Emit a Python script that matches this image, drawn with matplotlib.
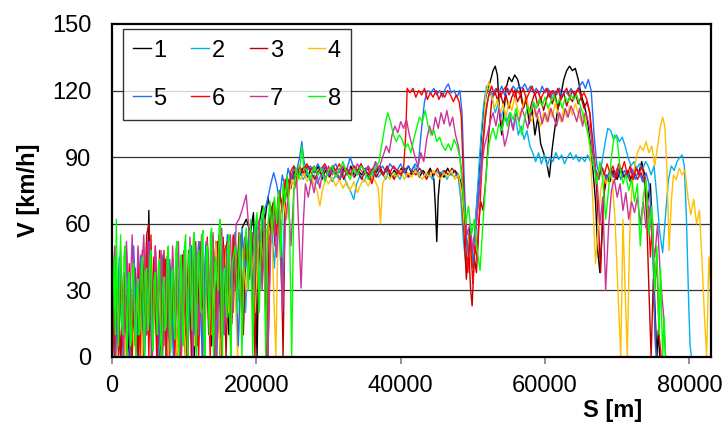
"""
Speed profiles V(S) for eight runs along the same route.
"""
import numpy as np
import matplotlib
matplotlib.use("Agg")
import matplotlib.pyplot as plt

plt.rcParams["font.family"] = ["Liberation Sans", "DejaVu Sans"]

# (S [km], V [km/h]), one list per run
run1 = [(0.0, 0), (0.6, 30), (1.2, 0), (1.8, 35), (2.4, 0), (3.0, 38), (3.6, 0), (4.2, 45), (4.8, 10), (5.1, 66),
        (5.4, 0), (6.0, 40), (6.6, 0), (7.2, 42), (7.8, 0), (8.4, 40), (9.0, 0), (9.6, 44), (10.2, 0), (10.8, 46),
        (11.4, 0), (12.0, 48), (12.6, 22), (13.2, 50), (13.8, 5), (14.4, 52), (15.0, 0), (15.6, 50), (16.2, 10),
        (16.8, 54), (17.4, 25), (18.0, 58), (18.6, 62), (19.2, 56), (19.6, 65), (19.9, 30), (20.1, 0), (20.4, 60),
        (20.8, 68), (21.2, 62), (21.6, 72), (22.0, 65), (22.4, 70), (22.8, 60), (23.2, 74), (23.6, 68), (24.0, 78),
        (24.4, 72), (24.8, 82), (25.2, 80), (25.6, 84), (26.1, 82), (26.6, 86), (27.1, 81), (27.6, 85), (28.1, 83),
        (28.6, 86), (29.1, 80), (29.6, 84), (30.1, 82), (30.6, 86), (31.1, 83), (31.6, 80), (32.1, 85), (32.6, 82),
        (33.1, 86), (33.6, 81), (34.1, 84), (34.6, 82), (35.1, 85), (35.6, 80), (36.1, 84), (36.6, 83), (37.1, 86),
        (37.6, 82), (38.1, 85), (38.6, 81), (39.1, 84), (39.6, 82), (40.1, 85), (40.6, 83), (41.1, 86), (41.6, 82),
        (42.1, 85), (42.6, 81), (43.1, 84), (43.6, 82), (44.1, 85), (44.6, 80), (44.8, 68), (45.0, 52), (45.2, 72),
        (45.5, 83), (46.0, 81), (46.5, 85), (47.0, 82), (47.5, 84), (48.0, 82), (48.4, 78), (48.8, 60), (49.2, 48),
        (49.6, 58), (50.0, 45), (50.4, 62), (50.8, 80), (51.2, 100), (51.6, 114), (52.0, 120), (52.4, 124),
        (52.8, 129), (53.1, 131), (53.4, 127), (53.7, 110), (54.0, 100), (54.3, 110), (54.6, 121), (55.0, 126),
        (55.4, 124), (55.8, 127), (56.2, 125), (56.6, 120), (57.0, 112), (57.4, 117), (57.8, 105), (58.2, 112),
        (58.6, 100), (59.0, 108), (59.4, 96), (59.8, 92), (60.2, 88), (60.6, 81), (61.0, 94), (61.4, 104),
        (61.8, 112), (62.2, 118), (62.6, 125), (63.0, 129), (63.4, 131), (63.8, 129), (64.2, 130), (64.6, 125),
        (65.0, 118), (65.4, 114), (65.8, 108), (66.2, 98), (66.6, 86), (67.0, 70), (67.3, 48), (67.6, 38),
        (67.9, 55), (68.2, 74), (68.6, 82), (69.0, 79), (69.5, 84), (70.0, 80), (70.5, 85), (71.0, 81), (71.5, 84),
        (72.0, 79), (72.5, 86), (73.0, 83), (73.4, 88), (73.8, 82), (74.2, 70), (74.6, 78), (74.9, 55), (75.2, 25),
        (75.5, 0), (75.7, 12), (75.9, 0)]

run2 = [(0.0, 25), (0.5, 0), (1.0, 35), (1.5, 0), (2.0, 40), (2.5, 5), (3.0, 42), (3.5, 0), (4.0, 45), (4.5, 0),
        (5.0, 48), (5.5, 5), (6.0, 44), (6.5, 0), (7.0, 46), (7.5, 0), (8.0, 42), (8.5, 5), (9.0, 45), (9.5, 0),
        (10.0, 48), (10.5, 0), (11.0, 50), (11.5, 10), (12.0, 50), (12.5, 0), (13.0, 52), (13.5, 15), (14.0, 54),
        (14.5, 0), (15.0, 52), (15.5, 20), (16.0, 55), (16.5, 10), (17.0, 56), (17.5, 40), (18.0, 58), (18.5, 20),
        (19.0, 56), (19.5, 45), (20.0, 60), (20.5, 30), (21.0, 62), (21.5, 55), (22.0, 66), (22.5, 40), (23.0, 70),
        (23.5, 32), (24.0, 72), (24.5, 78), (25.0, 82), (25.5, 78), (26.0, 84), (26.5, 80), (27.0, 83), (27.5, 79),
        (28.0, 82), (28.5, 78), (29.0, 83), (29.5, 80), (30.0, 84), (30.5, 79), (31.0, 82), (31.5, 80), (32.0, 83),
        (32.5, 78), (33.0, 75), (33.5, 71), (33.9, 78), (34.4, 82), (34.9, 79), (35.4, 83), (35.9, 80), (36.4, 84),
        (36.9, 81), (37.4, 83), (37.9, 80), (38.4, 84), (38.9, 81), (39.4, 83), (39.9, 80), (40.4, 84), (40.9, 81),
        (41.4, 83), (41.9, 86), (42.4, 82), (42.9, 84), (43.4, 81), (43.9, 83), (44.4, 80), (44.9, 84), (45.4, 82),
        (45.9, 84), (46.4, 80), (46.9, 83), (47.4, 81), (47.9, 83), (48.3, 72), (48.7, 52), (49.1, 40), (49.5, 50),
        (49.9, 42), (50.3, 58), (50.7, 78), (51.1, 98), (51.5, 114), (51.9, 122), (52.3, 120), (52.7, 116),
        (53.1, 110), (53.5, 114), (53.9, 108), (54.3, 112), (54.7, 106), (55.1, 110), (55.5, 103), (55.9, 108),
        (56.3, 100), (56.7, 104), (57.1, 98), (57.5, 102), (57.9, 95), (58.3, 92), (58.7, 88), (59.1, 92),
        (59.5, 87), (59.9, 91), (60.3, 86), (60.7, 90), (61.1, 88), (61.5, 92), (61.9, 89), (62.3, 91), (62.7, 87),
        (63.1, 90), (63.5, 92), (63.9, 89), (64.3, 91), (64.7, 88), (65.1, 90), (65.5, 88), (65.9, 91), (66.3, 88),
        (66.7, 86), (67.1, 84), (67.5, 80), (67.9, 88), (68.3, 96), (68.7, 103), (69.1, 102), (69.5, 98),
        (69.9, 100), (70.3, 97), (70.7, 99), (71.1, 95), (71.5, 90), (71.9, 86), (72.3, 88), (72.7, 85), (73.1, 87),
        (73.5, 84), (73.9, 88), (74.3, 86), (74.7, 82), (75.1, 86), (75.5, 72), (75.9, 56), (76.3, 47), (76.7, 64),
        (77.1, 80), (77.5, 86), (77.9, 84), (78.3, 88), (78.7, 90), (79.0, 91), (79.3, 86), (79.6, 62), (79.9, 25),
        (80.1, 5), (80.3, 0)]

run3 = [(0.0, 35), (0.4, 0), (0.8, 30), (1.2, 0), (1.6, 38), (2.0, 5), (2.4, 35), (2.8, 0), (3.2, 40), (3.6, 0),
        (4.0, 45), (4.4, 0), (4.8, 55), (5.1, 60), (5.4, 5), (5.8, 45), (6.2, 0), (6.6, 48), (7.0, 0), (7.4, 44),
        (7.8, 0), (8.2, 40), (8.6, 5), (9.0, 42), (9.4, 0), (9.8, 46), (10.2, 0), (10.6, 48), (11.0, 0), (11.4, 50),
        (11.8, 5), (12.2, 52), (12.6, 0), (13.0, 50), (13.4, 10), (13.8, 55), (14.2, 0), (14.6, 52), (15.0, 20),
        (15.4, 54), (15.8, 0), (16.2, 50), (16.6, 15), (17.0, 54), (17.4, 30), (17.8, 55), (18.2, 10), (18.6, 52),
        (19.0, 35), (19.4, 56), (19.8, 0), (20.2, 58), (20.6, 40), (21.0, 62), (21.4, 0), (21.8, 60), (22.2, 68),
        (22.6, 50), (23.0, 72), (23.4, 60), (23.7, 0), (24.0, 70), (24.4, 80), (24.8, 76), (25.2, 84), (25.6, 80),
        (26.1, 85), (26.6, 82), (27.1, 86), (27.6, 83), (28.1, 80), (28.6, 84), (29.1, 82), (29.6, 86), (30.1, 81),
        (30.6, 84), (31.1, 82), (31.6, 85), (32.1, 80), (32.6, 84), (33.1, 82), (33.6, 86), (34.1, 83), (34.6, 80),
        (35.1, 84), (35.6, 82), (36.1, 85), (36.6, 81), (37.1, 84), (37.6, 82), (38.1, 86), (38.6, 83), (39.1, 80),
        (39.6, 84), (40.1, 82), (40.6, 85), (41.1, 81), (41.6, 84), (42.1, 82), (42.6, 85), (43.1, 83), (43.6, 80),
        (44.1, 84), (44.6, 82), (45.1, 85), (45.6, 81), (46.1, 84), (46.6, 82), (47.1, 85), (47.6, 83), (48.1, 80),
        (48.4, 76), (48.8, 55), (49.1, 35), (49.4, 50), (49.7, 30), (49.9, 23), (50.2, 45), (50.5, 38), (50.8, 60),
        (51.1, 70), (51.4, 66), (51.8, 80), (52.2, 100), (52.6, 115), (53.0, 120), (53.4, 116), (53.8, 119),
        (54.2, 114), (54.6, 118), (55.0, 112), (55.4, 117), (55.8, 120), (56.2, 115), (56.6, 118), (57.0, 112),
        (57.4, 116), (57.8, 110), (58.2, 115), (58.6, 119), (59.0, 113), (59.4, 117), (59.8, 111), (60.2, 116),
        (60.6, 120), (61.0, 114), (61.4, 118), (61.8, 112), (62.2, 116), (62.6, 119), (63.0, 113), (63.4, 117),
        (63.8, 115), (64.2, 119), (64.6, 114), (65.0, 117), (65.4, 112), (65.8, 115), (66.2, 110), (66.6, 98),
        (67.0, 84), (67.4, 60), (67.7, 38), (68.0, 68), (68.4, 82), (68.8, 79), (69.3, 84), (69.8, 80), (70.3, 85),
        (70.8, 81), (71.3, 83), (71.8, 79), (72.3, 84), (72.8, 80), (73.3, 83), (73.8, 78), (74.1, 62), (74.4, 30),
        (74.7, 0), (75.0, 35), (75.3, 5), (75.5, 0)]

run4 = [(0.0, 20), (0.6, 0), (1.2, 30), (1.8, 0), (2.4, 35), (3.0, 5), (3.6, 40), (4.2, 0), (4.8, 45), (5.4, 0),
        (6.0, 42), (6.6, 5), (7.2, 40), (7.8, 0), (8.4, 44), (9.0, 0), (9.6, 42), (10.2, 0), (10.8, 46), (11.4, 5),
        (12.0, 48), (12.6, 0), (13.2, 50), (13.8, 10), (14.4, 52), (15.0, 0), (15.6, 50), (16.2, 20), (16.8, 54),
        (17.4, 0), (18.0, 50), (18.6, 30), (19.2, 55), (19.8, 20), (20.4, 58), (21.0, 40), (21.6, 60), (22.2, 50),
        (22.5, 20), (22.7, 0), (23.0, 55), (23.4, 65), (23.8, 70), (24.2, 62), (24.6, 75), (25.0, 80), (25.4, 76),
        (25.8, 82), (26.2, 80), (26.6, 83), (27.0, 79), (27.5, 82), (28.0, 78), (28.4, 75), (28.8, 68), (29.2, 76),
        (29.6, 80), (30.0, 78), (30.5, 81), (31.0, 77), (31.5, 80), (32.0, 76), (32.5, 79), (33.0, 75), (33.5, 79),
        (34.0, 74), (34.5, 78), (35.0, 80), (35.5, 77), (36.0, 81), (36.5, 79), (36.9, 76), (37.2, 60), (37.5, 78),
        (38.0, 82), (38.5, 80), (39.0, 83), (39.5, 81), (40.0, 84), (40.5, 80), (41.0, 83), (41.5, 81), (42.0, 84),
        (42.5, 82), (43.0, 80), (43.5, 83), (44.0, 81), (44.5, 84), (45.0, 82), (45.5, 80), (46.0, 83), (46.5, 81),
        (47.0, 84), (47.5, 80), (48.0, 82), (48.4, 75), (48.8, 60), (49.2, 45), (49.5, 55), (49.8, 40), (50.2, 50),
        (50.6, 65), (51.0, 80), (51.4, 100), (51.8, 118), (52.2, 124), (52.6, 118), (53.0, 112), (53.4, 116),
        (53.8, 110), (54.2, 114), (54.6, 108), (55.0, 115), (55.4, 111), (55.8, 117), (56.2, 112), (56.6, 108),
        (57.0, 114), (57.4, 118), (57.8, 110), (58.2, 106), (58.6, 112), (59.0, 108), (59.4, 104), (59.8, 110),
        (60.2, 106), (60.6, 112), (61.0, 108), (61.4, 114), (61.8, 110), (62.2, 106), (62.6, 112), (63.0, 108),
        (63.4, 113), (63.8, 109), (64.2, 114), (64.6, 110), (65.0, 106), (65.4, 110), (65.8, 104), (66.2, 95),
        (66.6, 72), (67.0, 42), (67.3, 55), (67.7, 75), (68.1, 82), (68.5, 78), (68.9, 84), (69.3, 80), (69.7, 62),
        (70.1, 30), (70.5, 0), (70.8, 62), (71.1, 30), (71.4, 0), (71.7, 50), (72.0, 75), (72.4, 85), (72.8, 92),
        (73.2, 95), (73.6, 93), (74.0, 97), (74.4, 92), (74.8, 95), (75.2, 86), (75.6, 95), (76.0, 104), (76.3, 108),
        (76.6, 104), (76.9, 84), (77.2, 48), (77.5, 70), (77.8, 82), (78.2, 80), (78.6, 85), (79.0, 82), (79.4, 84),
        (79.8, 72), (80.2, 64), (80.6, 71), (81.0, 60), (81.4, 66), (81.8, 40), (82.1, 18), (82.4, 0), (82.7, 45),
        (83.0, 30)]

run5 = [(0.0, 42), (0.5, 0), (1.0, 45), (1.5, 5), (2.0, 48), (2.5, 0), (3.0, 50), (3.5, 10), (4.0, 46), (4.5, 0),
        (5.0, 52), (5.5, 0), (6.0, 48), (6.5, 5), (7.0, 45), (7.5, 0), (8.0, 44), (8.5, 0), (9.0, 46), (9.5, 5),
        (10.0, 48), (10.5, 0), (11.0, 50), (11.5, 10), (12.0, 52), (12.5, 0), (13.0, 50), (13.5, 20), (14.0, 54),
        (14.5, 0), (15.0, 52), (15.5, 10), (16.0, 55), (16.5, 30), (17.0, 54), (17.5, 5), (18.0, 56), (18.5, 40),
        (19.0, 57), (19.5, 30), (20.0, 60), (20.5, 50), (21.0, 65), (21.5, 70), (22.0, 78), (22.4, 83), (22.8, 78),
        (23.2, 70), (23.6, 82), (24.0, 76), (24.4, 85), (24.8, 80), (25.2, 86), (25.6, 84), (26.0, 90), (26.3, 97),
        (26.6, 88), (27.0, 84), (27.5, 86), (28.0, 83), (28.5, 87), (29.0, 84), (29.5, 86), (30.0, 82), (30.5, 85),
        (31.0, 87), (31.5, 83), (32.0, 86), (32.5, 84), (33.0, 90), (33.5, 85), (34.0, 83), (34.5, 87), (35.0, 84),
        (35.5, 86), (36.0, 83), (36.5, 87), (37.0, 84), (37.5, 86), (38.0, 83), (38.5, 87), (39.0, 85), (39.5, 84),
        (40.0, 87), (40.5, 83), (41.0, 86), (41.5, 84), (42.0, 87), (42.4, 85), (42.8, 100), (43.3, 115),
        (43.7, 120), (44.2, 119), (44.6, 121), (45.0, 118), (45.4, 120), (45.8, 117), (46.2, 121), (46.6, 123),
        (47.0, 119), (47.4, 120), (47.8, 117), (48.2, 120), (48.5, 110), (48.8, 80), (49.1, 55), (49.4, 45),
        (49.7, 60), (50.0, 40), (50.4, 55), (50.8, 75), (51.2, 90), (51.6, 105), (52.0, 115), (52.4, 120),
        (52.8, 118), (53.2, 121), (53.6, 119), (54.0, 122), (54.4, 118), (54.8, 121), (55.2, 119), (55.6, 122),
        (56.0, 120), (56.4, 122), (56.8, 121), (57.2, 123), (57.6, 120), (58.0, 122), (58.4, 119), (58.8, 121),
        (59.2, 118), (59.6, 122), (60.0, 119), (60.4, 121), (60.8, 117), (61.2, 120), (61.6, 118), (62.0, 121),
        (62.4, 117), (62.8, 120), (63.2, 118), (63.6, 121), (64.0, 118), (64.4, 120), (64.8, 122), (65.2, 124),
        (65.6, 121), (66.0, 125), (66.4, 120), (66.8, 100), (67.2, 86), (67.6, 82), (68.0, 85), (68.5, 80),
        (69.0, 84), (69.5, 81), (70.0, 85), (70.5, 80), (71.0, 84), (71.5, 81), (72.0, 85), (72.5, 80), (73.0, 84),
        (73.5, 79), (74.0, 83), (74.4, 78), (74.8, 60), (75.1, 30), (75.4, 0)]

run6 = [(0.0, 40), (0.3, 0), (0.6, 38), (0.9, 0), (1.2, 40), (1.5, 5), (1.8, 38), (2.1, 0), (2.4, 42), (2.7, 0),
        (3.0, 40), (3.3, 2), (3.6, 44), (3.9, 0), (4.2, 48), (4.5, 10), (4.8, 52), (5.1, 0), (5.4, 55), (5.7, 5),
        (6.0, 50), (6.3, 0), (6.6, 45), (6.9, 10), (7.2, 48), (7.5, 0), (7.8, 42), (8.1, 2), (8.4, 45), (8.7, 0),
        (9.0, 40), (9.3, 5), (9.6, 0), (10.0, 46), (10.4, 0), (10.8, 50), (11.2, 8), (11.6, 52), (12.0, 0),
        (12.4, 48), (12.8, 10), (13.2, 54), (13.6, 0), (14.0, 50), (14.4, 15), (14.8, 55), (15.2, 0), (15.6, 48),
        (16.0, 52), (16.4, 10), (16.8, 55), (17.2, 30), (17.6, 56), (18.0, 20), (18.4, 54), (18.8, 40), (19.2, 56),
        (19.6, 10), (20.0, 55), (20.4, 60), (20.8, 35), (21.2, 62), (21.6, 0), (22.0, 60), (22.4, 70), (22.8, 55),
        (23.2, 75), (23.6, 65), (24.0, 80), (24.4, 72), (24.8, 84), (25.2, 86), (25.6, 82), (26.0, 86), (26.5, 83),
        (27.0, 87), (27.5, 84), (28.0, 86), (28.5, 82), (29.0, 85), (29.5, 87), (30.0, 83), (30.5, 86), (31.0, 84),
        (31.5, 87), (32.0, 83), (32.5, 85), (33.0, 82), (33.5, 86), (34.0, 84), (34.5, 87), (35.0, 83), (35.5, 85),
        (36.0, 78), (36.5, 84), (37.0, 86), (37.5, 82), (38.0, 85), (38.5, 83), (39.0, 86), (39.5, 84), (40.0, 82),
        (40.4, 85), (40.7, 100), (40.9, 121), (41.3, 119), (41.7, 121), (42.1, 117), (42.5, 120), (42.9, 118),
        (43.3, 121), (43.7, 116), (44.1, 119), (44.5, 117), (44.9, 120), (45.3, 116), (45.7, 119), (46.1, 117),
        (46.5, 120), (46.9, 118), (47.3, 115), (47.7, 118), (48.1, 115), (48.4, 108), (48.7, 80), (49.0, 50),
        (49.3, 38), (49.6, 55), (50.0, 33), (50.3, 50), (50.6, 44), (51.0, 70), (51.4, 95), (51.8, 110),
        (52.2, 118), (52.6, 122), (53.0, 118), (53.4, 121), (53.8, 117), (54.2, 120), (54.6, 122), (55.0, 118),
        (55.4, 121), (55.8, 117), (56.2, 120), (56.6, 118), (57.0, 121), (57.4, 116), (57.8, 119), (58.2, 122),
        (58.6, 118), (59.0, 120), (59.4, 116), (59.8, 119), (60.2, 121), (60.6, 117), (61.0, 120), (61.4, 118),
        (61.8, 121), (62.2, 116), (62.6, 119), (63.0, 121), (63.4, 117), (63.8, 120), (64.2, 118), (64.6, 121),
        (65.0, 117), (65.4, 119), (65.8, 116), (66.2, 110), (66.6, 92), (67.0, 84), (67.4, 80), (67.8, 86),
        (68.2, 82), (68.6, 87), (69.0, 83), (69.4, 86), (69.8, 81), (70.2, 87), (70.6, 84), (71.0, 88), (71.4, 82),
        (71.8, 86), (72.2, 80), (72.6, 85), (73.0, 82), (73.4, 86), (73.8, 80), (74.2, 72), (74.6, 45), (74.9, 62),
        (75.2, 30), (75.5, 45), (75.8, 10), (76.1, 0)]

run7 = [(0.0, 30), (0.4, 50), (0.8, 10), (1.2, 48), (1.6, 0), (2.0, 52), (2.4, 20), (2.8, 55), (3.2, 5), (3.6, 50),
        (4.0, 30), (4.4, 55), (4.8, 10), (5.2, 52), (5.6, 0), (6.0, 50), (6.4, 25), (6.8, 48), (7.2, 5), (7.6, 45),
        (8.0, 0), (8.4, 50), (8.8, 15), (9.2, 52), (9.6, 0), (10.0, 48), (10.4, 20), (10.8, 54), (11.2, 0),
        (11.6, 50), (12.0, 10), (12.4, 55), (12.8, 0), (13.2, 52), (13.6, 30), (14.0, 56), (14.4, 0), (14.8, 50),
        (15.2, 58), (15.6, 10), (16.0, 50), (16.4, 55), (16.8, 20), (17.2, 60), (17.6, 62), (18.0, 66), (18.6, 73),
        (18.9, 60), (19.2, 40), (19.6, 20), (20.0, 55), (20.4, 62), (20.8, 30), (21.2, 58), (21.6, 0), (22.0, 55),
        (22.4, 65), (22.8, 45), (23.2, 68), (23.6, 20), (24.0, 60), (24.4, 72), (24.8, 50), (25.2, 75), (25.6, 80),
        (25.9, 55), (26.2, 31), (26.5, 60), (26.8, 78), (27.2, 72), (27.6, 80), (28.0, 74), (28.4, 82), (28.8, 76),
        (29.2, 84), (29.6, 80), (30.0, 86), (30.5, 82), (31.0, 84), (31.5, 80), (32.0, 86), (32.5, 83), (33.0, 85),
        (33.5, 81), (34.0, 87), (34.5, 84), (35.0, 82), (35.5, 86), (36.0, 83), (36.5, 88), (37.0, 85), (37.5, 90),
        (38.0, 95), (38.4, 92), (38.8, 100), (39.2, 104), (39.6, 101), (40.0, 106), (40.4, 103), (40.8, 107),
        (41.2, 100), (41.6, 95), (42.0, 90), (42.4, 86), (42.8, 92), (43.2, 88), (43.6, 98), (44.0, 104),
        (44.4, 100), (44.8, 108), (45.2, 103), (45.6, 110), (46.0, 105), (46.4, 111), (46.8, 104), (47.2, 108),
        (47.6, 100), (48.0, 95), (48.4, 85), (48.8, 70), (49.2, 55), (49.6, 60), (50.0, 48), (50.4, 58), (50.8, 70),
        (51.2, 85), (51.6, 95), (52.0, 100), (52.4, 106), (52.8, 110), (53.2, 104), (53.6, 112), (54.0, 105),
        (54.4, 95), (54.8, 100), (55.2, 108), (55.6, 102), (56.0, 110), (56.4, 106), (56.8, 112), (57.2, 108),
        (57.6, 103), (58.0, 110), (58.4, 114), (58.8, 108), (59.2, 112), (59.6, 105), (60.0, 110), (60.4, 106),
        (60.8, 112), (61.2, 108), (61.6, 104), (62.0, 110), (62.4, 106), (62.8, 112), (63.2, 108), (63.6, 113),
        (64.0, 110), (64.4, 106), (64.8, 112), (65.2, 104), (65.6, 110), (66.0, 106), (66.4, 100), (66.8, 88),
        (67.2, 80), (67.6, 60), (68.0, 72), (68.4, 30), (68.8, 58), (69.2, 75), (69.6, 80), (70.0, 72), (70.4, 78),
        (70.8, 66), (71.2, 74), (71.6, 62), (72.0, 70), (72.4, 65), (72.8, 72), (73.2, 60), (73.6, 70), (74.0, 58),
        (74.4, 68), (74.8, 55), (75.2, 45), (75.6, 60), (76.0, 35), (76.4, 20), (76.7, 0)]

run8 = [(0.0, 0), (0.15, 30), (0.3, 45), (0.45, 10), (0.6, 62), (0.75, 20), (0.9, 5), (1.05, 40), (1.2, 55),
        (1.35, 15), (1.5, 10), (1.65, 45), (1.8, 50), (1.95, 20), (2.1, 0), (2.25, 35), (2.4, 38), (2.55, 5),
        (2.7, 8), (2.85, 40), (3.0, 42), (3.15, 15), (3.3, 0), (3.45, 30), (3.6, 35), (3.75, 10), (3.9, 12),
        (4.05, 40), (4.2, 45), (4.35, 20), (4.5, 0), (4.65, 38), (4.8, 40), (4.95, 12), (5.1, 15), (5.25, 45),
        (5.4, 48), (5.55, 10), (5.7, 3), (5.85, 35), (6.0, 38), (6.15, 18), (6.3, 10), (6.45, 42), (6.6, 44),
        (6.75, 8), (6.9, 0), (7.05, 32), (7.2, 36), (7.35, 12), (7.5, 14), (7.65, 45), (7.8, 50), (7.95, 20),
        (8.1, 2), (8.25, 38), (8.4, 40), (8.55, 15), (8.7, 8), (8.85, 48), (9.0, 52), (9.15, 18), (9.3, 0),
        (9.45, 42), (9.6, 46), (9.75, 10), (9.9, 5), (10.05, 50), (10.2, 55), (10.35, 20), (10.5, 0), (10.65, 46),
        (10.8, 50), (10.95, 25), (11.1, 12), (11.25, 52), (11.4, 56), (11.55, 15), (11.7, 0), (11.85, 45),
        (12.0, 48), (12.15, 30), (12.3, 20), (12.45, 54), (12.6, 57), (12.75, 10), (12.9, 0), (13.05, 46),
        (13.2, 50), (13.35, 25), (13.5, 10), (13.65, 55), (13.8, 58), (13.95, 12), (14.1, 0), (14.25, 42),
        (14.4, 45), (14.55, 35), (14.7, 30), (14.85, 58), (15.0, 62), (15.15, 20), (15.3, 0), (15.45, 38),
        (15.6, 40), (15.75, 25), (15.9, 18), (16.05, 50), (16.2, 55), (16.35, 10), (16.5, 0), (16.65, 42),
        (16.8, 45), (17.1, 50), (17.4, 20), (17.7, 56), (18.0, 0), (18.3, 48), (18.6, 58), (18.9, 30), (19.2, 62),
        (19.5, 0), (19.8, 58), (20.1, 65), (20.4, 20), (20.7, 62), (21.0, 68), (21.3, 0), (21.6, 60), (21.9, 70),
        (22.2, 55), (22.5, 72), (22.8, 60), (23.1, 75), (23.4, 45), (23.7, 78), (24.0, 70), (24.3, 82), (24.6, 60),
        (24.9, 0), (25.2, 75), (25.5, 85), (25.9, 80), (26.3, 95), (26.6, 85), (27.0, 84), (27.5, 80), (28.0, 86),
        (28.5, 82), (29.0, 85), (29.5, 79), (30.0, 84), (30.5, 86), (31.0, 81), (31.5, 84), (32.0, 88), (32.5, 83),
        (33.0, 80), (33.5, 85), (34.0, 82), (34.5, 86), (35.0, 84), (35.5, 80), (36.0, 83), (36.5, 85), (37.0, 88),
        (37.4, 96), (37.8, 104), (38.2, 110), (38.6, 106), (39.0, 100), (39.4, 97), (39.8, 100), (40.2, 98),
        (40.6, 94), (41.0, 96), (41.4, 92), (41.8, 98), (42.2, 103), (42.6, 108), (43.0, 106), (43.4, 111),
        (43.8, 104), (44.2, 100), (44.6, 102), (45.0, 97), (45.4, 99), (45.8, 95), (46.2, 93), (46.6, 96),
        (47.0, 93), (47.4, 98), (47.8, 95), (48.2, 90), (48.6, 75), (49.0, 60), (49.4, 68), (49.8, 55), (50.2, 62),
        (50.6, 48), (51.0, 39), (51.3, 55), (51.6, 70), (51.9, 85), (52.2, 95), (52.5, 100), (52.8, 103),
        (53.2, 98), (53.6, 105), (54.0, 102), (54.4, 108), (54.8, 104), (55.2, 110), (55.6, 107), (56.0, 112),
        (56.4, 105), (56.8, 100), (57.2, 108), (57.6, 113), (58.0, 110), (58.4, 115), (58.8, 112), (59.2, 116),
        (59.6, 113), (60.0, 117), (60.4, 112), (60.8, 115), (61.2, 118), (61.6, 114), (62.0, 116), (62.4, 112),
        (62.8, 117), (63.2, 115), (63.6, 118), (64.0, 116), (64.4, 118), (64.8, 114), (65.2, 110), (65.6, 105),
        (66.0, 100), (66.4, 92), (66.8, 85), (67.2, 78), (67.6, 88), (68.0, 80), (68.4, 62), (68.8, 75), (69.2, 90),
        (69.6, 100), (70.0, 98), (70.4, 85), (70.8, 78), (71.2, 82), (71.6, 75), (72.0, 80), (72.4, 70), (72.8, 78),
        (73.2, 50), (73.6, 72), (74.0, 80), (74.4, 55), (74.8, 68), (75.2, 30), (75.5, 50), (75.8, 10), (76.0, 40),
        (76.3, 0), (76.5, 18), (76.7, 0)]

RUNS = [run1, run2, run3, run4, run5, run6, run7, run8]
LABELS = ["1", "2", "3", "4", "5", "6", "7", "8"]
COLORS = ["#000000", "#00B0F0", "#C00000", "#FFC000", "#1F6FFF", "#FF0000", "#CC3399", "#00FF00"]

Y_TICKS = [0, 30, 60, 90, 120, 150]
X_TICKS = [0, 20000, 40000, 60000, 80000]
FS = 17


def plot_speed_profiles(output_path="out.png"):
    fig = plt.figure(figsize=(7.25, 4.28), dpi=100)
    ax = fig.add_axes([0.1545, 0.166, 0.8262, 0.778])

    for yv in Y_TICKS[1:-1]:
        ax.axhline(yv, color="#333333", lw=0.9, zorder=1)

    handles = []
    for run, lab, col in zip(RUNS, LABELS, COLORS):
        arr = np.array(run, dtype=float)
        line, = ax.plot(arr[:, 0] * 1000, arr[:, 1], color=col, lw=1.0, label=lab, zorder=2)
        handles.append(line)

    ax.set_xlim(0, 83000)
    ax.set_ylim(0, 150)
    ax.set_xticks(X_TICKS)
    ax.set_yticks(Y_TICKS)
    ax.tick_params(axis="y", length=0, pad=15, labelsize=FS)
    ax.tick_params(axis="x", length=5, width=1.2, color="#808080", pad=8, labelsize=FS)

    for side in ["top", "right", "bottom", "left"]:
        ax.spines[side].set_linewidth(1.6)
        ax.spines[side].set_color("black")

    ax.set_ylabel("V [km/h]", fontsize=FS, fontweight="bold")
    ax.yaxis.set_label_coords(-0.12, 0.5)
    ax.set_xlabel("S [m]", fontsize=FS, fontweight="bold")
    ax.xaxis.set_label_coords(0.835, -0.125)

    # legend is filled row by row in the original: 1-4 on top, 5-8 below
    order = [0, 4, 1, 5, 2, 6, 3, 7]
    leg = ax.legend([handles[i] for i in order], [LABELS[i] for i in order],
                    ncol=4, loc="upper left", bbox_to_anchor=(0.018, 0.985),
                    fontsize=FS, frameon=True, fancybox=False, edgecolor="black",
                    handlelength=0.75, handletextpad=0.1, columnspacing=1.05,
                    labelspacing=1.1, borderpad=0.45, borderaxespad=0.0)
    leg.get_frame().set_linewidth(1.0)
    leg.set_zorder(5)

    fig.savefig(output_path, dpi=100)
    return fig


if __name__ == "__main__":
    plot_speed_profiles("out.png")
